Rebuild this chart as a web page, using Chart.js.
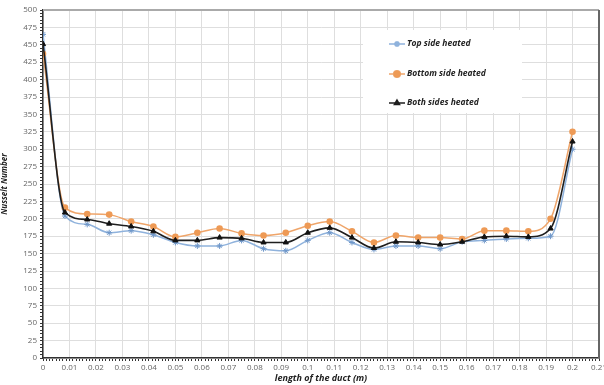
<!DOCTYPE html>
<html>
<head>
<meta charset="utf-8">
<script src="https://cdn.jsdelivr.net/npm/chart.js@4"></script>
<style>
  html, body { margin: 0; padding: 0; background: #fff; }
  #wrap { width: 604px; height: 385px; }
</style>
</head>
<body>
<div id="wrap"><canvas id="nusseltChart" width="604" height="385"></canvas></div>
<script>
// Posiciones a lo largo del conducto (m)
const positions = [0, 0.0083, 0.0167, 0.025, 0.0333, 0.0417, 0.05, 0.0583, 0.0667, 0.075, 0.0833, 0.0917,
  0.1, 0.1083, 0.1167, 0.125, 0.1333, 0.1417, 0.15, 0.1583, 0.1667, 0.175, 0.1833, 0.1917, 0.2];

// Numero de Nusselt para cada caso
const topHeated = [465, 204, 192, 180, 183, 177, 166, 161, 161, 169, 157, 154,
  169, 180, 166, 156, 161, 161, 157, 167, 169, 171, 172, 175, 300];
const bottomHeated = [437, 216, 207, 206, 196, 189, 174, 180, 186, 179, 176, 180,
  190, 196, 182, 166, 176, 173, 173, 171, 183, 183, 182, 200, 325];
const bothHeated = [451, 209, 199, 193, 189, 182, 169, 169, 173, 172, 166, 166,
  180, 187, 173, 158, 167, 166, 163, 167, 174, 175, 174, 186, 311];

const seriesNames = ['Top side heated', 'Bottom side heated', 'Both sides heated'];

// Marcas de los ejes
const xMax = 0.21, xMajor = 0.01, xMinor = 0.00125;
const yMax = 500, yMajor = 25, yMinor = 5;

const toPoints = vals => vals.map((v, i) => ({ x: positions[i], y: v }));

const isMajor = (v, step) => Math.abs(v / step - Math.round(v / step)) < 1e-6;

const tickFont = { family: 'Open Sans', size: 8 };
const titleFont = { family: 'Open Sans', size: 8, weight: 'bold', style: 'italic' };

// Leyenda dentro del grafico
const legendBox = {
  id: 'legendBox',
  afterDraw(chart) {
    const ctx = chart.ctx;
    ctx.save();
    ctx.fillStyle = '#fff';
    ctx.fillRect(363, 30, 159, 83);
    const rows = [44, 74, 103];
    chart.data.datasets.forEach((ds, i) => {
      const y = rows[i];
      ctx.strokeStyle = ds.borderColor;
      ctx.lineWidth = 1.5;
      ctx.beginPath();
      ctx.moveTo(389, y);
      ctx.lineTo(405, y);
      ctx.stroke();
      Chart.helpers.drawPoint(ctx, {
        pointStyle: ds.pointStyle, radius: ds.pointRadius, borderWidth: 1.2, rotation: 0
      }, 397, y);
      ctx.fillStyle = ds.pointBackgroundColor;
      ctx.strokeStyle = ds.pointBorderColor;
      ctx.beginPath();
      if (ds.pointStyle === 'circle') { ctx.arc(397, y, ds.pointRadius, 0, Math.PI * 2); ctx.fill(); }
      ctx.fillStyle = '#222';
      ctx.font = 'italic bold 8.5px "Open Sans"';
      ctx.textBaseline = 'middle';
      ctx.fillText(ds.label, 407, y);
    });
    // marco superior y derecho
    const a = chart.chartArea;
    ctx.lineWidth = 2;
    ctx.strokeStyle = '#aaa';
    ctx.beginPath();
    ctx.moveTo(a.left, a.top);
    ctx.lineTo(a.right, a.top);
    ctx.stroke();
    ctx.strokeStyle = '#666';
    ctx.beginPath();
    ctx.moveTo(a.right, a.top);
    ctx.lineTo(a.right, a.bottom);
    ctx.stroke();
    ctx.restore();
  }
};

function createNusseltChart() {
  const ctx = document.getElementById('nusseltChart').getContext('2d');
  new Chart(ctx, {
    type: 'line',
    data: {
      datasets: [{
        label: seriesNames[0],
        data: toPoints(topHeated),
        borderColor: '#8fb2dc',
        pointBackgroundColor: '#8fb2dc',
        pointBorderColor: '#6f97c9',
        pointStyle: 'star',
        pointRadius: 3,
        pointBorderWidth: 1,
        borderWidth: 1.5,
        order: 3
      }, {
        label: seriesNames[1],
        data: toPoints(bottomHeated),
        borderColor: '#efa56a',
        pointBackgroundColor: '#ee9a55',
        pointBorderColor: '#ee9a55',
        pointStyle: 'circle',
        pointRadius: 3.3,
        pointBorderWidth: 0,
        borderWidth: 1.5,
        order: 2
      }, {
        label: seriesNames[2],
        data: toPoints(bothHeated),
        borderColor: '#1e1e1e',
        pointBackgroundColor: '#111',
        pointBorderColor: '#111',
        pointStyle: 'triangle',
        pointRadius: 3,
        pointBorderWidth: 1,
        borderWidth: 1.6,
        order: 1
      }]
    },
    options: {
      responsive: false,
      animation: false,
      cubicInterpolationMode: 'monotone',
      layout: { padding: { top: 10, right: 2, left: 0, bottom: 0 } },
      plugins: { legend: { display: false }, tooltip: { enabled: false } },
      scales: {
        x: {
          type: 'linear',
          min: 0,
          max: xMax,
          afterFit(scale) { scale.height = 27; scale.paddingLeft = 0; scale.paddingRight = 0; },
          ticks: {
            stepSize: xMinor,
            autoSkip: false,
            maxRotation: 0,
            padding: 2,
            color: '#666',
            font: tickFont,
            callback: v => isMajor(v, xMajor) ? String(Math.round(v * 100) / 100) : ''
          },
          grid: {
            color: c => isMajor(c.tick.value, xMajor) ? '#dedede' : 'rgba(0,0,0,0)',
            tickColor: '#333',
            tickLength: 3,
            drawTicks: true
          },
          border: { color: '#333', width: 1.5 },
          title: {
            display: true,
            text: 'length of the duct (m)',
            color: '#222',
            font: { ...titleFont, size: 9 },
            padding: { top: 0, bottom: 1 }
          }
        },
        y: {
          min: 0,
          max: yMax,
          afterFit(scale) { scale.width = 43; scale.paddingTop = 0; scale.paddingBottom = 0; },
          ticks: {
            stepSize: yMinor,
            autoSkip: false,
            padding: 3,
            color: '#666',
            font: tickFont,
            callback: v => isMajor(v, yMajor) ? String(v) : ''
          },
          grid: {
            color: c => isMajor(c.tick.value, yMajor) ? '#dedede' : 'rgba(0,0,0,0)',
            tickColor: '#333',
            tickLength: 3
          },
          border: { color: '#333', width: 1.5 },
          title: {
            display: true,
            text: 'Nusselt Number',
            color: '#222',
            font: titleFont,
            padding: { top: 0, bottom: 2 }
          }
        }
      }
    },
    plugins: [legendBox]
  });
}

document.addEventListener('DOMContentLoaded', createNusseltChart);
</script>
</body>
</html>
